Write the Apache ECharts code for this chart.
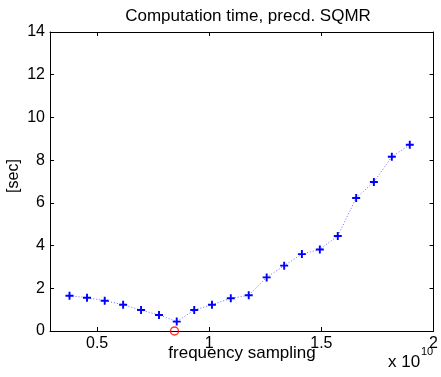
<!DOCTYPE html>
<html>
<head>
<meta charset="utf-8">
<script src="https://cdn.jsdelivr.net/npm/echarts@6/dist/echarts.min.js"></script>
<style>html,body{margin:0;padding:0;background:#fff}#c{width:441px;height:377px}</style>
</head>
<body>
<div id="c"></div>
<script>
var xValues = [0.377, 0.455, 0.534, 0.616, 0.696, 0.776, 0.855, 0.933, 1.012, 1.096, 1.176, 1.256, 1.334, 1.413, 1.493, 1.573, 1.655, 1.734, 1.814, 1.894];
var yValues = [1.65, 1.56, 1.42, 1.23, 0.98, 0.75, 0.44, 0.98, 1.23, 1.53, 1.67, 2.51, 3.06, 3.60, 3.82, 4.45, 6.23, 6.98, 8.16, 8.72];
var minPoint = [0.845, 0];
var xTicks = [0.5, 1, 1.5, 2];
var yTicks = [0, 2, 4, 6, 8, 10, 12, 14];
var titleText = 'Computation time, precd. SQMR';
var xLabel = 'frequency sampling';
var yLabel = '[sec]';

var FONT = '"Liberation Sans", Arial, Helvetica, sans-serif';
var plus = 'path://M-1.2,-5H1.2V-1.2H5V1.2H1.2V5H-1.2V1.2H-5V-1.2H-1.2Z';
var pts = xValues.map(function (x, i) { return [x, yValues[i]]; });

function xAxisCfg(pos, show) {
  return {
    type: 'value', position: pos, min: 0.29, max: 2.0,
    axisLine: { show: true, onZero: false, lineStyle: { color: '#000', width: 1 } },
    axisTick: { show: true, inside: true, length: 4, customValues: xTicks, lineStyle: { color: '#000' } },
    axisLabel: { show: show, customValues: xTicks, color: '#000', fontSize: 16, fontFamily: FONT, margin: 5,
      formatter: function (v) { return String(v); } },
    splitLine: { show: false }
  };
}
function yAxisCfg(pos, show) {
  return {
    type: 'value', position: pos, min: 0, max: 14, interval: 2,
    axisLine: { show: true, onZero: false, lineStyle: { color: '#000', width: 1 } },
    axisTick: { show: true, inside: true, length: 4, lineStyle: { color: '#000' } },
    axisLabel: { show: show, color: '#000', fontSize: 16, fontFamily: FONT, margin: 5,
      formatter: function (v) { return yTicks.indexOf(v) >= 0 ? String(v) : ''; } },
    splitLine: { show: false }
  };
}

var chart = echarts.init(document.getElementById('c'), null, { renderer: 'canvas' });
chart.setOption({
  animation: false,
  backgroundColor: '#fff',
  title: {
    text: titleText, left: 243, top: 3, textAlign: 'center',
    textStyle: { fontSize: 17, fontWeight: 'normal', color: '#000', fontFamily: FONT }
  },
  grid: { left: 50, right: 7, top: 32, bottom: 46 },
  xAxis: [xAxisCfg('bottom', true), xAxisCfg('top', false)],
  yAxis: [yAxisCfg('left', true), yAxisCfg('right', false)],
  graphic: [
    { type: 'text', x: 242, y: 353, style: { text: xLabel, fontSize: 17, fontFamily: FONT, fill: '#000', textAlign: 'center', textVerticalAlign: 'middle' } },
    { type: 'text', x: 14, y: 176, rotation: Math.PI / 2, style: { text: yLabel, fontSize: 16, fontFamily: FONT, fill: '#000', textAlign: 'center', textVerticalAlign: 'middle' } },
    { type: 'text', x: 388, y: 362, style: { text: 'x 10', fontSize: 17, fontFamily: FONT, fill: '#000', textVerticalAlign: 'middle' } },
    { type: 'text', x: 421, y: 352, style: { text: '10', fontSize: 11, fontFamily: FONT, fill: '#000', textVerticalAlign: 'middle' } }
  ],
  series: [
    {
      type: 'line', data: pts, xAxisIndex: 0, yAxisIndex: 0,
      symbol: plus, symbolSize: 8,
      itemStyle: { color: '#0000ff' },
      lineStyle: { color: '#6a6aff', width: 1, type: [1, 2] }
    },
    {
      type: 'scatter', data: [minPoint], xAxisIndex: 0, yAxisIndex: 0,
      symbol: 'circle', symbolSize: 8,
      itemStyle: { color: 'rgba(0,0,0,0)', borderColor: '#ff0000', borderWidth: 1.5 },
      z: 5
    }
  ]
});
</script>
</body>
</html>
